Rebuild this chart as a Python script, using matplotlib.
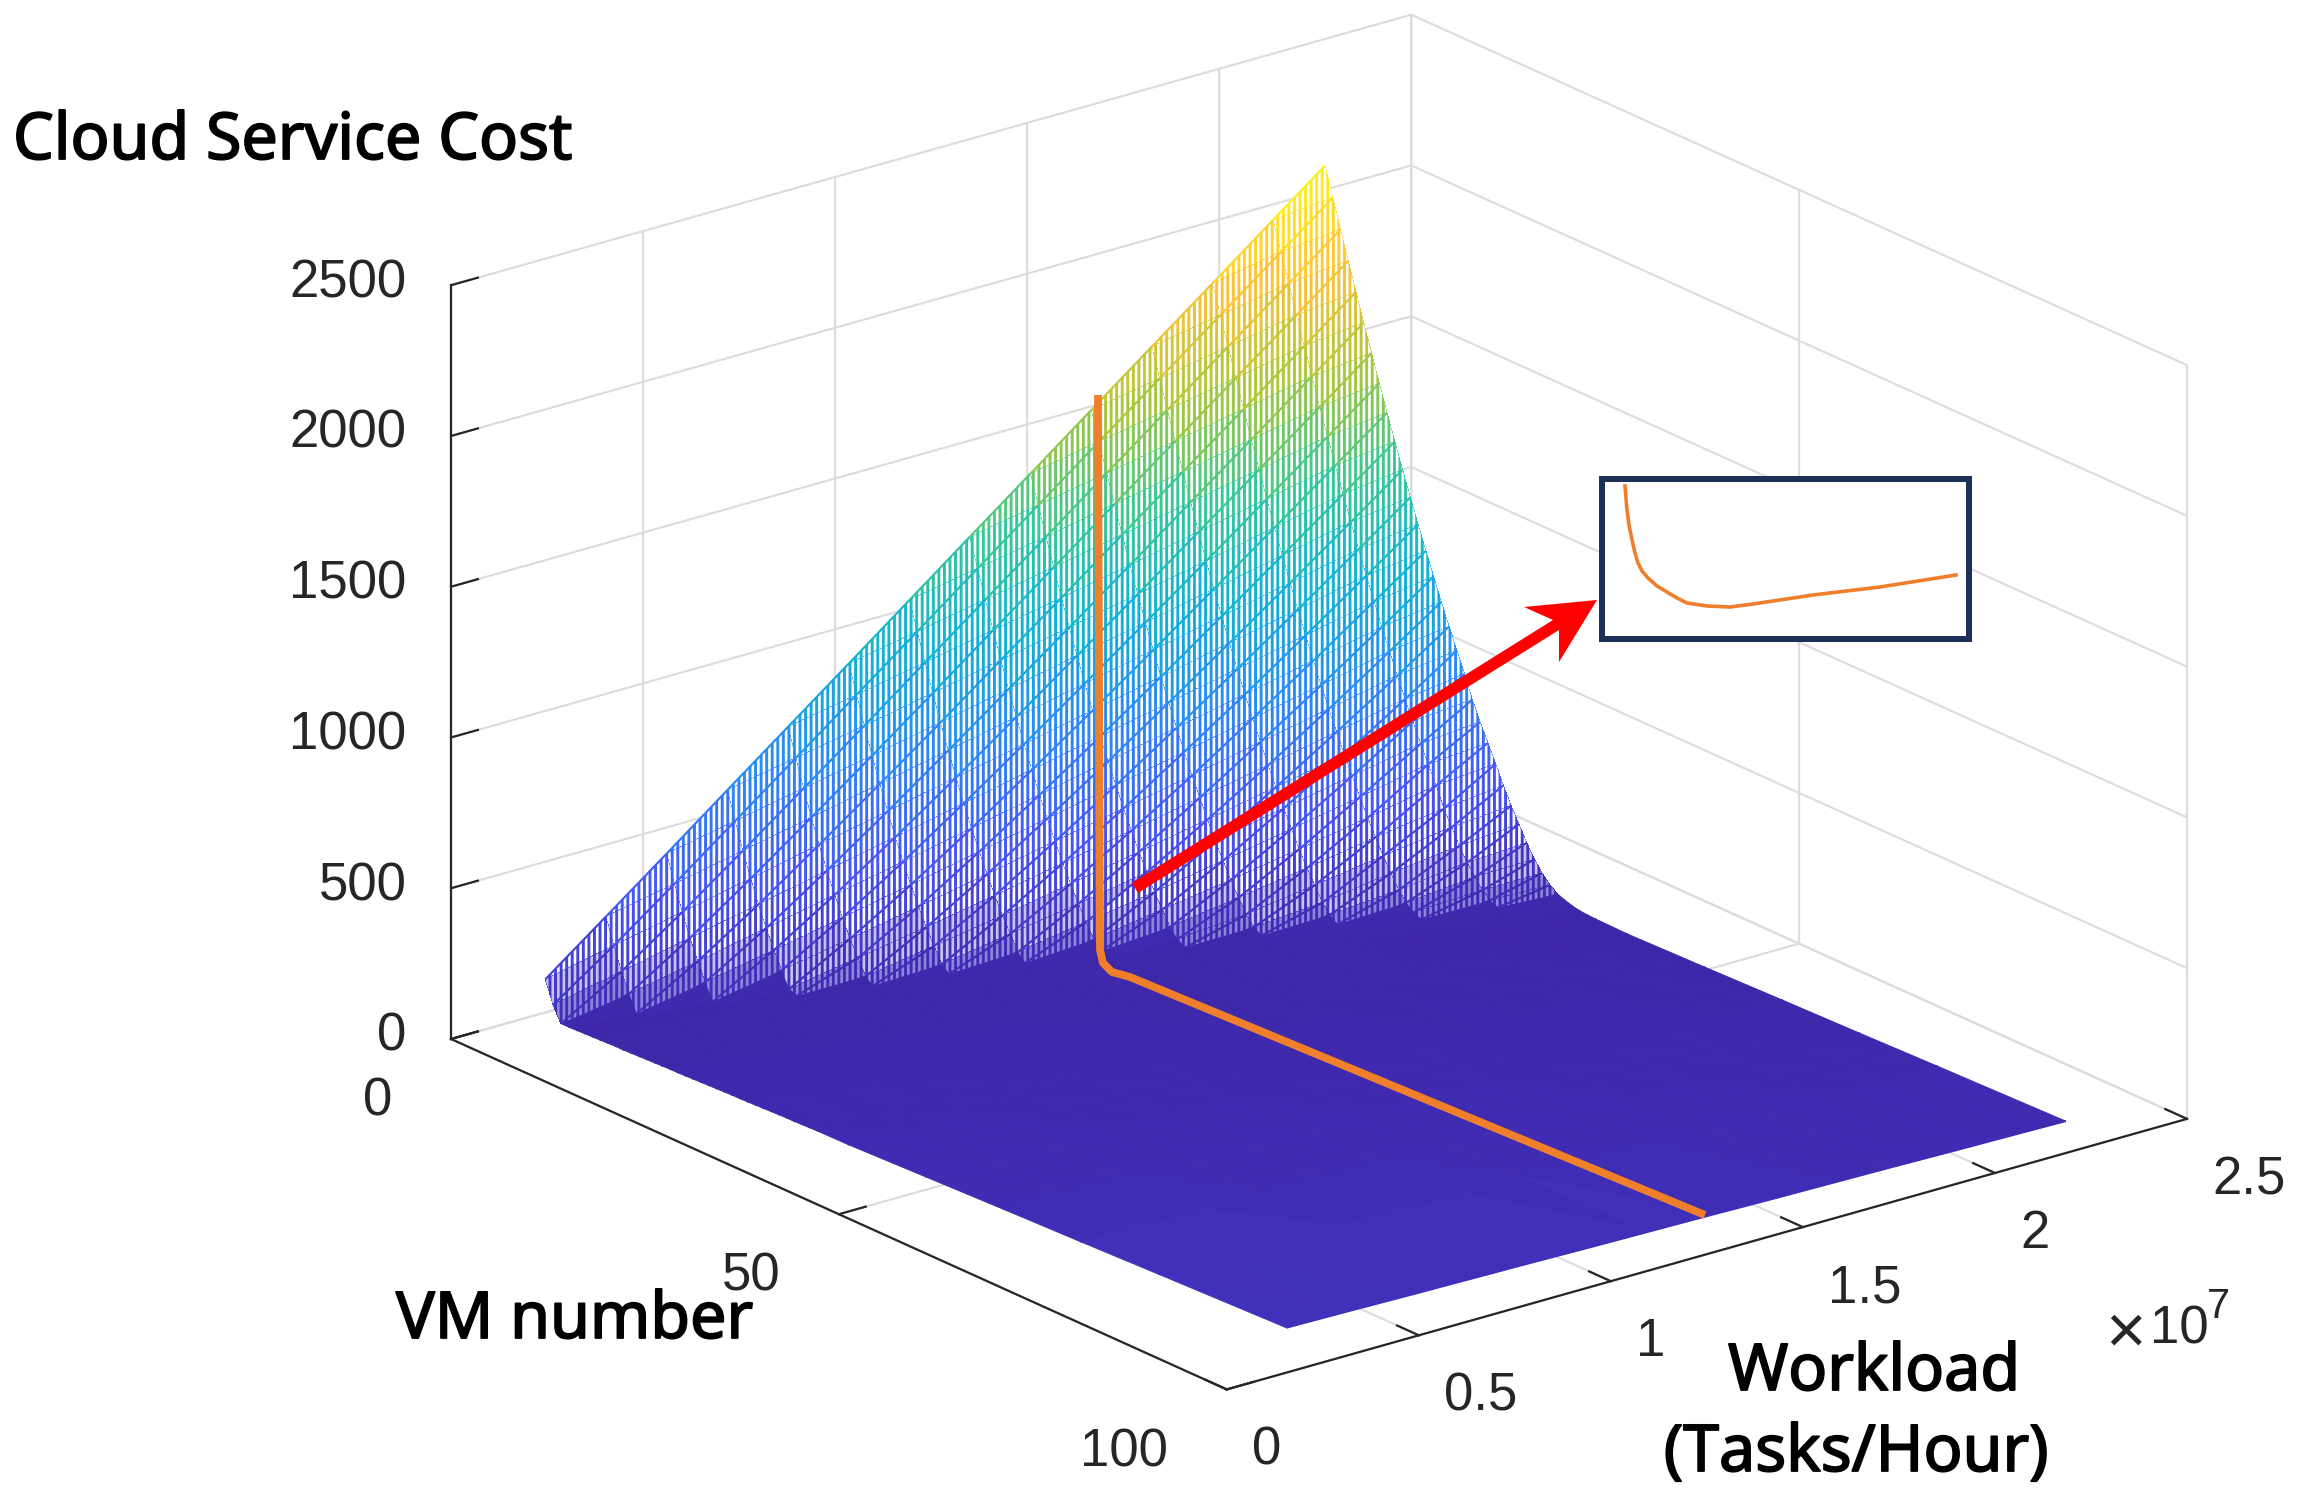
import matplotlib
matplotlib.use("Agg")
import matplotlib.patheffects as pe
import matplotlib.pyplot as plt
import numpy as np
from matplotlib.colors import LinearSegmentedColormap, Normalize
from mpl_toolkits.mplot3d import proj3d
from mpl_toolkits.mplot3d.art3d import Line3DCollection, Poly3DCollection

# surface values on a coarse grid, the dense
# constant-workload mesh lines of the original are approximated with a hatch
vm_number = [1, 2, 3, 4, 5, 6, 7, 8, 9, 10, 11, 12, 13, 14, 15, 16, 17, 18, 19, 20, 21, 22, 23, 24,
             25, 26, 27, 28, 29, 30, 31, 32, 33, 34, 35, 36, 40, 50, 60, 70, 80, 96.5]
workload = [0.2255, 0.383, 0.541, 0.699, 0.857, 1.015, 1.173, 1.330, 1.488, 1.646, 1.804, 1.962, 2.120, 2.255]
cost = [
    [129, 280, 432, 586, 739, 892, 1046, 1199, 1352, 1506, 1660, 1813, 1967, 2098],
    [56, 195, 343, 495, 647, 800, 953, 1106, 1259, 1413, 1566, 1719, 1872, 2004],
    [5, 121, 261, 408, 558, 709, 862, 1014, 1166, 1320, 1473, 1626, 1779, 1910],
    [5, 59, 187, 327, 473, 621, 772, 924, 1076, 1229, 1381, 1534, 1686, 1818],
    [6, 6, 121, 253, 394, 539, 686, 837, 987, 1139, 1291, 1442, 1595, 1726],
    [7, 7, 64, 186, 320, 460, 605, 752, 900, 1050, 1202, 1353, 1506, 1636],
    [8, 8, 12, 125, 251, 386, 527, 671, 818, 965, 1115, 1265, 1416, 1546],
    [9, 8, 8, 70, 187, 316, 453, 593, 737, 883, 1030, 1179, 1329, 1458],
    [10, 9, 9, 20, 129, 251, 382, 519, 659, 803, 949, 1096, 1245, 1372],
    [11, 10, 9, 9, 77, 190, 316, 448, 585, 726, 870, 1015, 1162, 1288],
    [11, 11, 10, 9, 28, 134, 253, 381, 514, 652, 793, 936, 1081, 1206],
    [12, 11, 11, 10, 9, 83, 194, 317, 446, 580, 718, 859, 1002, 1126],
    [13, 12, 11, 11, 10, 34, 139, 256, 381, 512, 646, 785, 926, 1048],
    [14, 13, 12, 11, 10, 15, 90, 199, 319, 445, 578, 713, 852, 972],
    [15, 14, 13, 12, 11, 10, 42, 145, 260, 383, 511, 643, 779, 898],
    [16, 15, 14, 13, 11, 10, 18, 96, 204, 322, 446, 576, 710, 826],
    [17, 15, 14, 13, 12, 11, 10, 50, 150, 264, 385, 511, 641, 756],
    [17, 16, 15, 14, 13, 12, 10, 24, 104, 209, 326, 448, 575, 688],
    [18, 17, 16, 15, 13, 12, 11, 12, 58, 157, 269, 388, 513, 622],
    [19, 18, 17, 15, 14, 13, 11, 10, 30, 110, 214, 330, 450, 548],
    [20, 19, 17, 16, 14, 13, 12, 10, 14, 66, 163, 273, 394, 486],
    [21, 19, 18, 17, 15, 14, 12, 11, 10, 36, 118, 220, 335, 428],
    [22, 20, 19, 17, 16, 14, 13, 11, 10, 20, 72, 170, 270, 370],
    [23, 21, 20, 18, 16, 15, 13, 11, 10, 12, 44, 124, 220, 310],
    [24, 22, 20, 19, 17, 15, 14, 12, 10, 9, 24, 80, 170, 255],
    [24, 23, 21, 19, 17, 16, 14, 12, 10, 9, 14, 50, 126, 205],
    [25, 23, 22, 20, 18, 16, 15, 13, 11, 9, 10, 30, 90, 155],
    [26, 24, 22, 21, 19, 17, 15, 13, 11, 9, 8, 18, 58, 112],
    [27, 25, 23, 21, 19, 17, 15, 13, 11, 10, 8, 10, 36, 78],
    [28, 26, 24, 22, 20, 18, 16, 14, 12, 10, 8, 6, 24, 50],
    [29, 27, 25, 23, 20, 19, 16, 14, 12, 10, 8, 6, 16, 32],
    [30, 27, 25, 23, 21, 19, 17, 15, 12, 11, 8, 6, 12, 22],
    [30, 28, 26, 24, 22, 20, 17, 15, 13, 11, 9, 6, 5, 14],
    [31, 29, 27, 25, 22, 20, 18, 15, 13, 11, 9, 7, 5, 9],
    [32, 30, 28, 25, 23, 21, 18, 16, 13, 11, 9, 7, 5, 7],
    [33, 31, 28, 26, 23, 21, 19, 16, 14, 12, 9, 7, 5, 6],
    [34, 32, 29, 27, 25, 22, 20, 18, 15, 13, 11, 9, 6, 4],
    [43, 40, 38, 35, 33, 30, 28, 25, 23, 20, 18, 15, 12, 10],
    [52, 49, 46, 44, 41, 38, 36, 33, 30, 27, 25, 22, 19, 17],
    [60, 57, 54, 51, 48, 46, 43, 40, 37, 34, 31, 28, 26, 23],
    [69, 66, 63, 60, 57, 54, 51, 48, 45, 42, 39, 36, 33, 30],
    [83, 80, 76, 73, 70, 66, 63, 60, 56, 53, 50, 46, 43, 40],
]

vm_ticks = [0, 50, 100]
workload_ticks = [0, 0.5, 1, 1.5, 2, 2.5]
workload_labels = ['0', '0.5', '1', '1.5', '2', '2.5']
cost_ticks = [0, 500, 1000, 1500, 2000, 2500]

# shapes drawn on top of the plot in the original, in reference pixels
path_x = [1098, 1100, 1103, 1112, 1130, 1705]
path_y = [395, 950, 963, 972, 977, 1215]
arrow_x = [1132, 1553, 1524, 1597, 1559, 1559, 1138]
arrow_y = [883, 620, 607, 600, 662, 630, 893]
inset_x = [1625, 1627, 1629, 1632, 1635, 1638, 1642, 1648, 1657, 1667, 1677, 1687, 1707, 1730, 1753, 1813, 1880, 1956]
inset_y = [486, 510, 525, 540, 553, 563, 571, 578, 586, 592, 598, 603, 606, 607, 604, 595, 587, 575]

W, H = 2318, 1504
parula = LinearSegmentedColormap.from_list("parula", [
    (0.2422, 0.1504, 0.6603), (0.2810, 0.3228, 0.9579), (0.1786, 0.5289, 0.9682),
    (0.0689, 0.6948, 0.8394), (0.2161, 0.7843, 0.5923), (0.6720, 0.7793, 0.2227),
    (0.9970, 0.7659, 0.2199), (0.9769, 0.9839, 0.0805)])
orange = '#F07F2C'
ink = '#262626'

plt.rcParams['font.family'] = ['Liberation Sans', 'DejaVu Sans']
plt.rcParams['hatch.linewidth'] = 1.9

fig = plt.figure(figsize=(W / 100, H / 100), dpi=100)
ax = fig.add_axes([0, 0, 1, 1], projection='3d', proj_type='ortho', computed_zorder=False)
ax.view_init(elev=20.9, azim=-38.3)
ax.set_box_aspect((847, 828, 546))
ax.set_xlim(0, 100, view_margin=0)
ax.set_ylim(0, 2.5, view_margin=0)
ax.set_zlim(0, 2500, view_margin=0)
ax.patch.set_alpha(0)

V = np.array(vm_number, dtype=float)
L = np.array(workload)
Z = np.array(cost, dtype=float)
norm = Normalize(0, 2100)

# triangles sorted by height, the gaps of the mesh close up towards the floor
bands = [(150, 1e9, 'white'), (70, 150, '#c9c4ee'), (34, 70, '#8f86dc')]
band_polys = [[] for b in bands]
band_cols = [[] for b in bands]
floor_polys, floor_cols = [], []
for i in range(len(V) - 1):
    for j in range(len(L) - 1):
        a = (V[i], L[j], Z[i, j])
        b = (V[i + 1], L[j], Z[i + 1, j])
        c = (V[i + 1], L[j + 1], Z[i + 1, j + 1])
        d = (V[i], L[j + 1], Z[i, j + 1])
        for tri in ([a, b, c], [a, c, d]):
            mean_z = sum(p[2] for p in tri) / 3
            col = parula(norm(mean_z))
            hit = False
            if V[i] < 36:
                for k, (lo, hi, hatch_col) in enumerate(bands):
                    if lo <= mean_z < hi:
                        band_polys[k].append(tri)
                        band_cols[k].append(col)
                        hit = True
                        break
            if not hit:
                floor_polys.append(tri)
                floor_cols.append(col)

floor = Poly3DCollection(floor_polys, facecolors=floor_cols, edgecolors=floor_cols, linewidths=0.6, zorder=3)
ax.add_collection3d(floor)
for k, (lo, hi, hatch_col) in enumerate(bands):
    plt.rcParams['hatch.color'] = hatch_col
    band = Poly3DCollection(band_polys[k], facecolors=band_cols[k], edgecolors='none', linewidths=0,
                            hatch='|||', antialiased=False, zorder=4)
    ax.add_collection3d(band)

segs, seg_cols = [], []
for i in range(len(V)):
    for j in range(len(L) - 1):
        segs.append([(V[i], L[j], Z[i, j]), (V[i], L[j + 1], Z[i, j + 1])])
        seg_cols.append(parula(norm((Z[i, j] + Z[i, j + 1]) / 2)))
ax.add_collection3d(Line3DCollection(segs, colors=seg_cols, linewidths=1.5, zorder=5))

ax.set_xticks(vm_ticks)
ax.set_yticks(workload_ticks)
ax.set_yticklabels(workload_labels)
ax.set_zticks(cost_ticks)
ax.tick_params(axis='both', labelsize=38, colors=ink)
ax.tick_params(axis='x', pad=35)
ax.tick_params(axis='y', pad=15)
ax.tick_params(axis='z', pad=10)
plt.setp(ax.get_xticklabels(), ha='right', va='center')
plt.setp(ax.get_yticklabels(), ha='left')
plt.setp(ax.get_zticklabels(), ha='right', va='center')
ax.zaxis.set_ticks_position('lower')
for axis in (ax.xaxis, ax.yaxis, ax.zaxis):
    axis.set_pane_color((1, 1, 1, 0))
    axis.pane.set_edgecolor('#d9d9d9')
    axis.pane.set_linewidth(1.5)
    axis.line.set_color(ink)
    axis.line.set_linewidth(1.6)
    axis._axinfo['grid'].update(color='#dcdcdc', linewidth=1.5)
    axis._axinfo['tick']['inward_factor'] = 0
    axis._axinfo['tick']['outward_factor'] = 0.35
    axis._axinfo['tick']['linewidth'] = {True: 1.6, False: 1}
    axis._axinfo['tick']['color'] = ink


def to_pixels(x, y, z):
    xs, ys, _ = proj3d.proj_transform(x, y, z, ax.get_proj())
    return ax.transData.transform((xs, ys))


# fit the 3D box on the reference corners
side = 1600.0
ax.set_position([(W - side) / 2 / W, (H - side) / 2 / H, side / W, side / H])
fig.canvas.draw()
spread = to_pixels(100, 2.5, 0)[0] - to_pixels(0, 0, 0)[0]
side = side * (2187 - 451) / spread
ax.set_position([(W - side) / 2 / W, (H - side) / 2 / H, side / W, side / H])
fig.canvas.draw()
origin = to_pixels(0, 0, 0)
dx, dy = 451 - origin[0], (H - 1039) - origin[1]
ax.set_position([((W - side) / 2 + dx) / W, ((H - side) / 2 + dy) / H, side / W, side / H])

# overlay in reference pixels for the drawn-on shapes and labels
over = fig.add_axes([0, 0, 1, 1])
over.set_xlim(0, W)
over.set_ylim(H, 0)
over.axis('off')

over.plot(path_x, path_y, color=orange, lw=5.6, solid_capstyle='butt', solid_joinstyle='round')
over.fill(arrow_x, arrow_y, color='#FF0000', lw=0)
over.add_patch(plt.Rectangle((1602, 479), 367, 160, facecolor='white', edgecolor='#1B2F57', lw=4.3, zorder=5))
over.plot(inset_x, inset_y, color=orange, lw=2.6, zorder=6)

# Noto Sans has no heavier cut here, a thin stroke gives the semi-bold look
label_font = ['Noto Sans', 'DejaVu Sans']
heavy = [pe.withStroke(linewidth=1.3, foreground='black')]
over.text(13, 142, 'Cloud Service Cost', fontsize=46.5, family=label_font, color='black', va='center', path_effects=heavy)
over.text(396, 1321, 'VM number', fontsize=46.5, family=label_font, color='black', va='center', path_effects=heavy)
over.text(1874, 1373, 'Workload', fontsize=46.5, family=label_font, color='black', va='center', ha='center', path_effects=heavy)
over.text(1856, 1454, '(Tasks/Hour)', fontsize=46.5, family=label_font, color='black', va='center', ha='center', path_effects=heavy)
over.text(2125, 1335, '\u00d7', fontsize=50, color=ink, va='center', ha='center')
over.text(2150, 1329, '10', fontsize=38, color=ink, va='center')
over.text(2207, 1307, '7', fontsize=30, color=ink, va='center')

fig.savefig('out.png', dpi=100)
